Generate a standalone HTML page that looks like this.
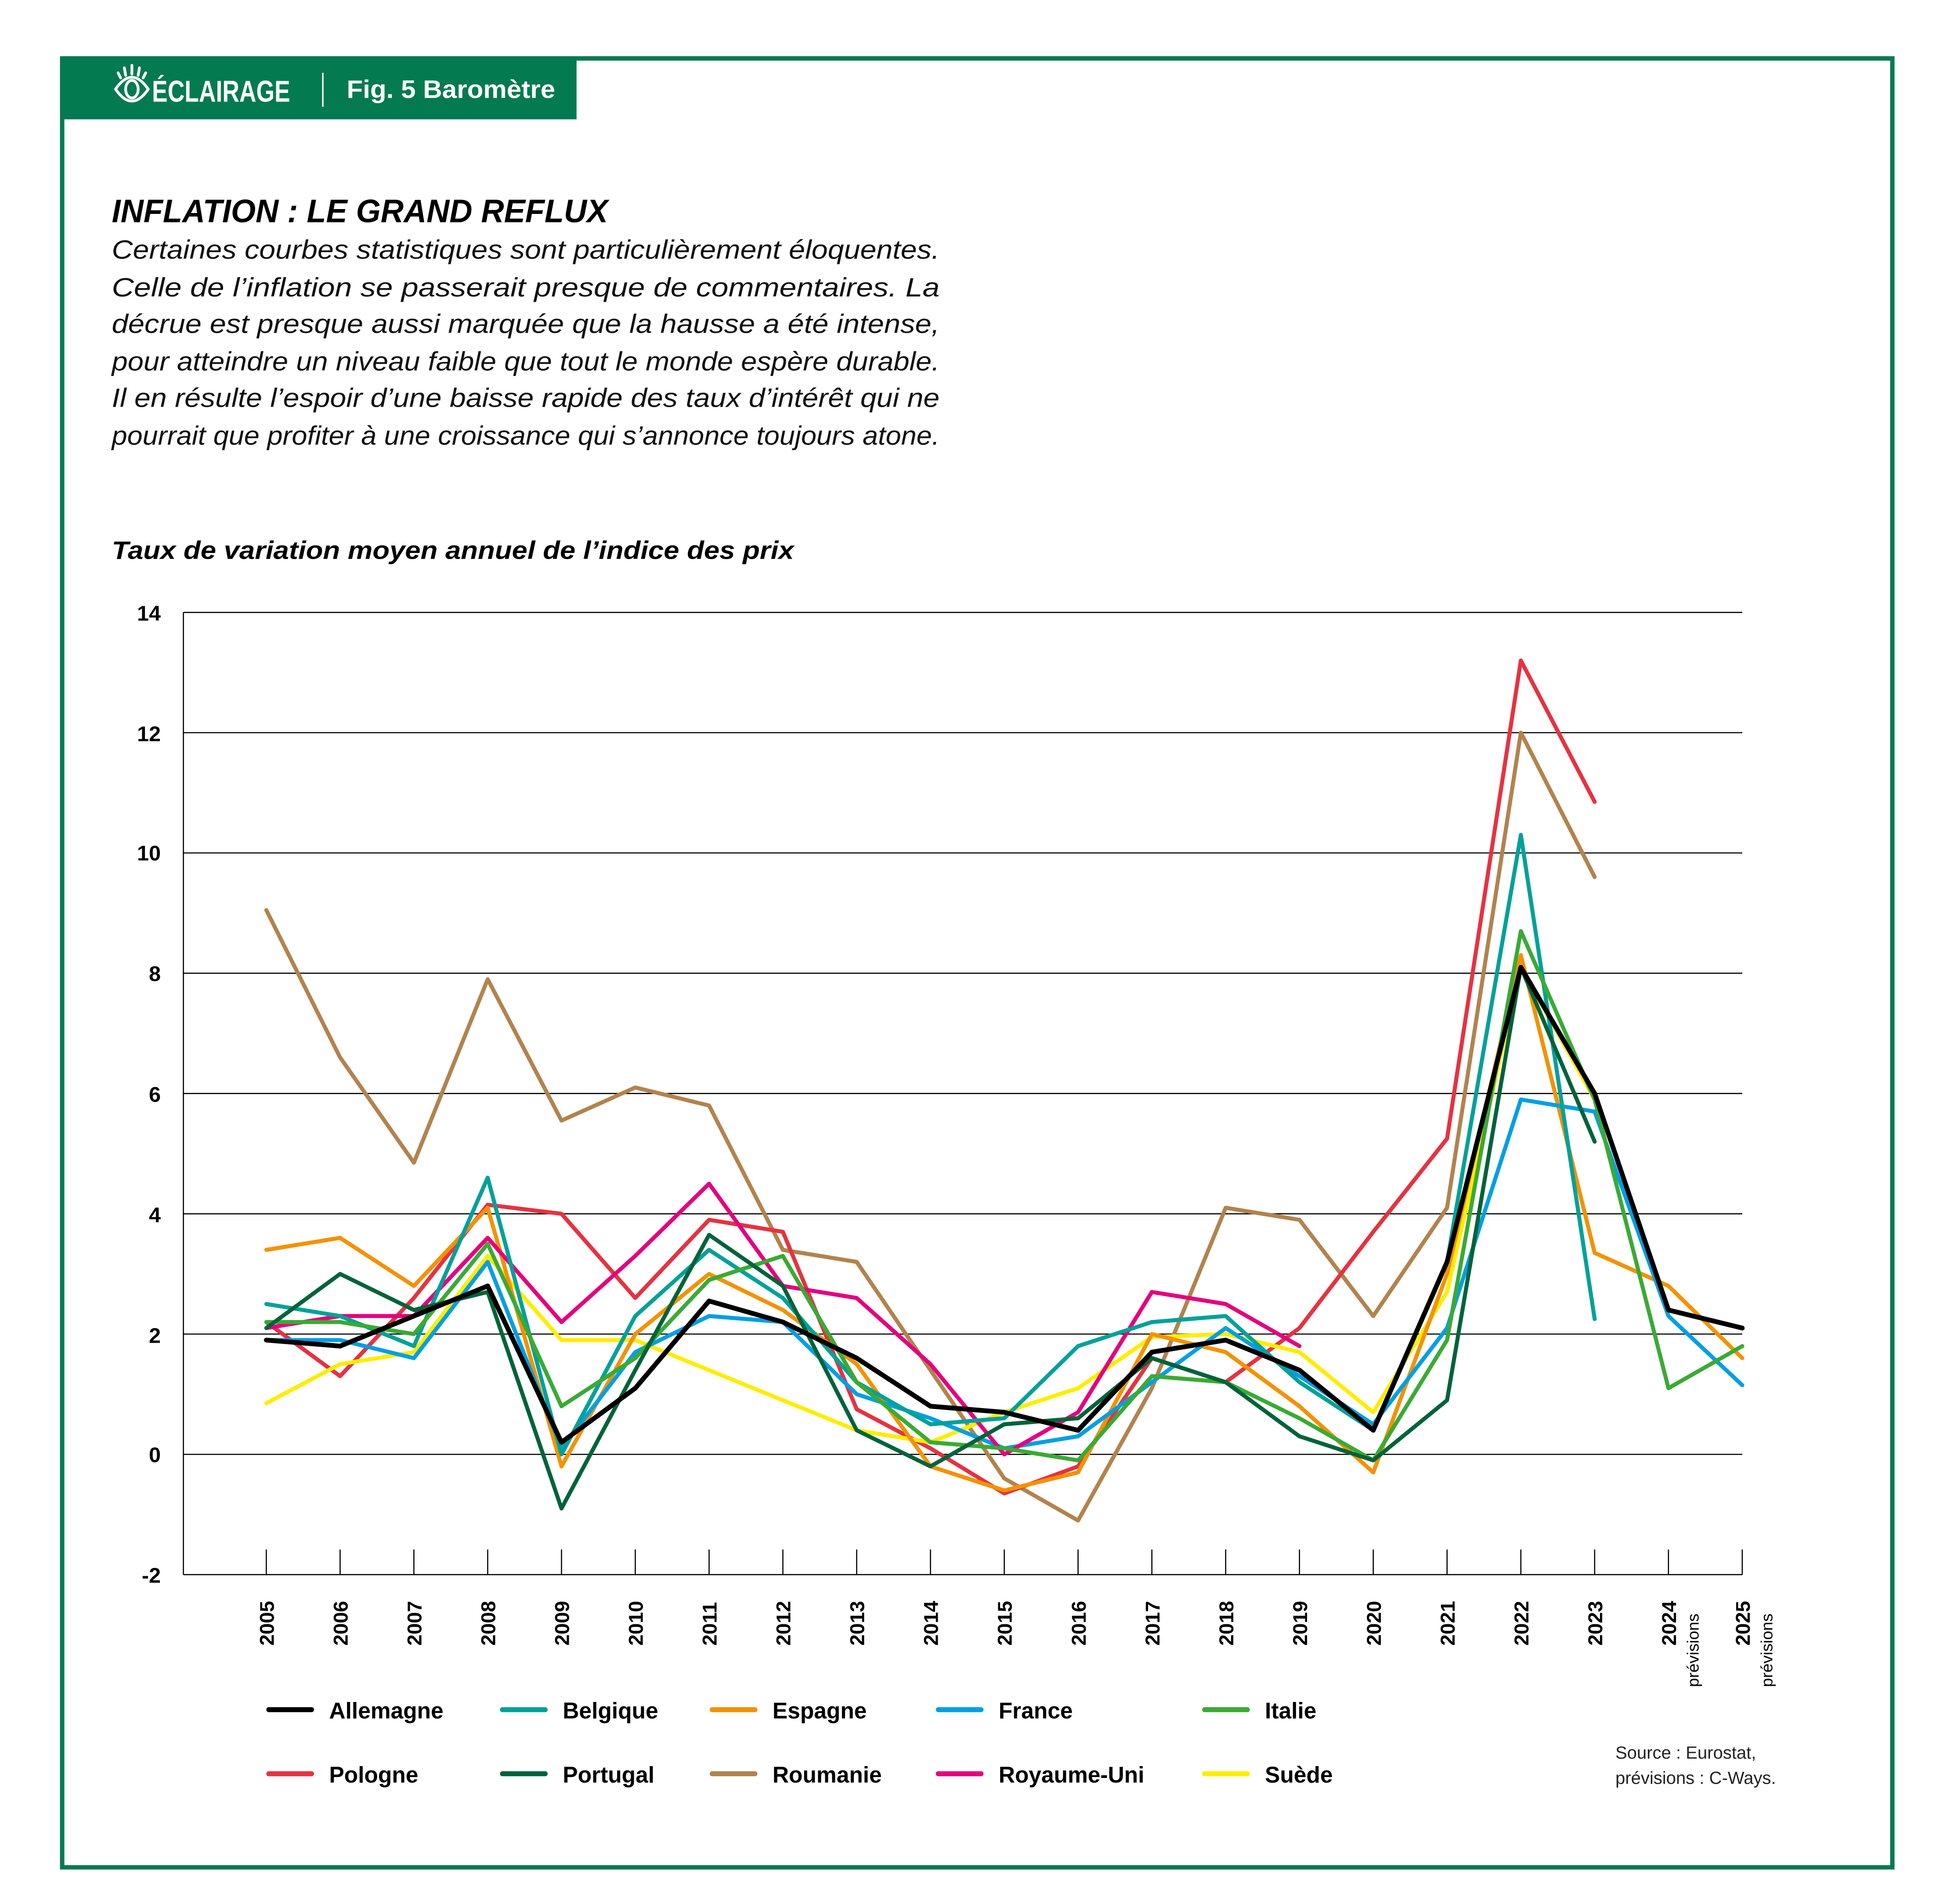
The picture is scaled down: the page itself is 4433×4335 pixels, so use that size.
<!DOCTYPE html>
<html><head><meta charset="utf-8">
<style>
html,body{margin:0;padding:0;background:#fff;}
svg{display:block;}
text{font-family:"Liberation Sans",sans-serif;}
</style></head>
<body>
<svg id="s" width="4433" height="4335" viewBox="0 0 1550 1515.7" preserveAspectRatio="none" xmlns="http://www.w3.org/2000/svg">
<rect x="0" y="0" width="1550" height="1516" fill="#fff"/>
<rect x="49.5" y="46.5" width="1457" height="1440" fill="none" stroke="#037a50" stroke-width="3.5"/>
<rect x="48" y="45" width="411" height="50" fill="#037a50"/>
<!-- eye icon -->
<g stroke="#fff" fill="none" stroke-width="2.2" stroke-linecap="round">
<path d="M92 71 Q105 52 118 71 Q105 90 92 71 Z"/>
<ellipse cx="105" cy="71" rx="5" ry="7"/>
<line x1="105" y1="52" x2="105" y2="59"/><line x1="99" y1="54" x2="100" y2="60"/><line x1="111" y1="54" x2="110" y2="60"/><line x1="94" y1="58" x2="96" y2="62"/><line x1="116" y1="58" x2="114" y2="62"/>
</g>
<text x="121" y="81" fill="#fff" font-size="24" font-weight="bold" textLength="110" lengthAdjust="spacingAndGlyphs">ÉCLAIRAGE</text>
<line x1="257" y1="58" x2="257" y2="85" stroke="#fff" stroke-width="1.2"/>
<text x="276" y="78" fill="#fff" font-size="20" font-weight="bold" textLength="166" lengthAdjust="spacingAndGlyphs">Fig. 5 Baromètre</text>

<text x="89" y="177" font-size="26" font-weight="bold" font-style="italic" textLength="395" lengthAdjust="spacingAndGlyphs">INFLATION : LE GRAND REFLUX</text>
<g font-size="21" font-style="italic" fill="#111">
<text x="89" y="206" textLength="659" lengthAdjust="spacingAndGlyphs">Certaines courbes statistiques sont particulièrement éloquentes.</text>
<text x="89" y="236" textLength="659" lengthAdjust="spacingAndGlyphs">Celle de l’inflation se passerait presque de commentaires. La</text>
<text x="89" y="265" textLength="659" lengthAdjust="spacingAndGlyphs">décrue est presque aussi marquée que la hausse a été intense,</text>
<text x="89" y="295" textLength="659" lengthAdjust="spacingAndGlyphs">pour atteindre un niveau faible que tout le monde espère durable.</text>
<text x="89" y="324" textLength="659" lengthAdjust="spacingAndGlyphs">Il en résulte l’espoir d’une baisse rapide des taux d’intérêt qui ne</text>
<text x="89" y="354" textLength="659" lengthAdjust="spacingAndGlyphs">pourrait que profiter à une croissance qui s’annonce toujours atone.</text>
</g>
<text x="89" y="445" font-size="20" font-weight="bold" font-style="italic" textLength="543" lengthAdjust="spacingAndGlyphs">Taux de variation moyen annuel de l’indice des prix</text>

<g id="grid" stroke="#000" stroke-width="0.9"></g>
<g id="ylab" font-size="17" font-weight="bold" text-anchor="end">
<text x="128" y="494">14</text><text x="128" y="590">12</text><text x="128" y="685">10</text>
<text x="128" y="781">8</text><text x="128" y="877">6</text><text x="128" y="973">4</text>
<text x="128" y="1069">2</text><text x="128" y="1164">0</text><text x="128" y="1260">-2</text>
</g>
<g id="xlab" font-size="16" font-weight="bold"></g>
<g id="series" fill="none" stroke-width="3.2" stroke-linejoin="round" stroke-linecap="round"></g>

<g font-size="18" font-weight="bold">
<text x="262" y="1368">Allemagne</text><text x="448" y="1368">Belgique</text><text x="615" y="1368">Espagne</text><text x="795" y="1368">France</text><text x="1007" y="1368">Italie</text>
<text x="262" y="1419">Pologne</text><text x="448" y="1419">Portugal</text><text x="615" y="1419">Roumanie</text><text x="795" y="1419">Royaume-Uni</text><text x="1007" y="1419">Suède</text>
</g>
<g stroke-width="4" stroke-linecap="round">
<line x1="214" y1="1361" x2="248" y2="1361" stroke="#000"/><line x1="400" y1="1361" x2="434" y2="1361" stroke="#00a19a"/><line x1="567" y1="1361" x2="601" y2="1361" stroke="#f39200"/><line x1="747" y1="1361" x2="781" y2="1361" stroke="#009fe3"/><line x1="959" y1="1361" x2="993" y2="1361" stroke="#3aaa35"/>
<line x1="214" y1="1412" x2="248" y2="1412" stroke="#e63241"/><line x1="400" y1="1412" x2="434" y2="1412" stroke="#00633a"/><line x1="567" y1="1412" x2="601" y2="1412" stroke="#b1834e"/><line x1="747" y1="1412" x2="781" y2="1412" stroke="#e5007d"/><line x1="959" y1="1412" x2="993" y2="1412" stroke="#ffed00"/>
</g>
<text x="1286" y="1400" font-size="14" fill="#222">Source : Eurostat,</text>
<text x="1286" y="1420" font-size="14" fill="#222">prévisions : C-Ways.</text>
</svg>
<script>
var NS="http://www.w3.org/2000/svg";
function X(i){return 212+i*58.75;}
function Y(v){return 1157.75-v*47.875;}
function el(t,a,p,txt){var e=document.createElementNS(NS,t);for(var k in a)e.setAttribute(k,a[k]);if(txt)e.textContent=txt;p.appendChild(e);return e;}
var g=document.getElementById("grid");
for(var v=-2;v<=14;v+=2){el("line",{x1:146,x2:1387,y1:Y(v),y2:Y(v)},g);}
el("line",{x1:146,x2:146,y1:Y(14),y2:Y(-2)},g);
for(var i=0;i<21;i++){el("line",{x1:X(i),x2:X(i),y1:Y(-2),y2:Y(-2)-20},g);}
var xl=document.getElementById("xlab");
for(var i=0;i<21;i++){var x=X(i)+6,y=1310;el("text",{x:x,y:y,transform:"rotate(-90 "+x+" "+y+")"},xl,String(2005+i));}
[X(19),X(20)].forEach(function(xx){var x=xx+24,y=1343;el("text",{x:x,y:y,transform:"rotate(-90 "+x+" "+y+")","font-size":"13","font-weight":"normal"},xl,"prévisions");});
var S=[
["#b1834e",[9.05,6.6,4.85,7.9,5.55,6.1,5.8,3.4,3.2,1.4,-0.4,-1.1,1.1,4.1,3.9,2.3,4.1,12.0,9.6]],
["#e63241",[2.2,1.3,2.6,4.15,4.0,2.6,3.9,3.7,0.75,0.1,-0.65,-0.2,1.6,1.2,2.1,3.7,5.25,13.2,10.85]],
["#ffed00",[0.85,1.5,1.7,3.3,1.9,1.9,1.4,0.9,0.4,0.2,0.7,1.1,1.95,2.0,1.7,0.7,2.7,8.1,5.9]],
["#f39200",[3.4,3.6,2.8,4.1,-0.2,2.0,3.0,2.4,1.5,-0.2,-0.6,-0.3,2.0,1.7,0.8,-0.3,3.0,8.3,3.35,2.8,1.6]],
["#009fe3",[1.9,1.9,1.6,3.2,0.1,1.7,2.3,2.2,1.0,0.6,0.1,0.3,1.2,2.1,1.3,0.5,2.1,5.9,5.7,2.3,1.15]],
["#e5007d",[2.1,2.3,2.3,3.6,2.2,3.3,4.5,2.8,2.6,1.5,0.0,0.7,2.7,2.5,1.8]],
["#00a19a",[2.5,2.3,1.8,4.6,0.0,2.3,3.4,2.6,1.2,0.5,0.6,1.8,2.2,2.3,1.2,0.4,3.2,10.3,2.25]],
["#3aaa35",[2.2,2.2,2.0,3.5,0.8,1.6,2.9,3.3,1.2,0.2,0.1,-0.1,1.3,1.2,0.6,-0.1,1.9,8.7,5.9,1.1,1.8]],
["#00633a",[2.1,3.0,2.4,2.7,-0.9,1.4,3.65,2.8,0.4,-0.2,0.5,0.6,1.6,1.2,0.3,-0.1,0.9,8.1,5.2]],
["#000000",[1.9,1.8,2.3,2.8,0.2,1.1,2.55,2.2,1.6,0.8,0.7,0.4,1.7,1.9,1.4,0.4,3.2,8.1,6.0,2.4,2.1]]
];
var sg=document.getElementById("series");
S.forEach(function(s){var p=s[1].map(function(v,i){return X(i)+","+Y(v);}).join(" ");el("polyline",{points:p,stroke:s[0],"stroke-width":s[0]=="#000000"?"3.8":"3.2"},sg);});
</script>
</body></html>
